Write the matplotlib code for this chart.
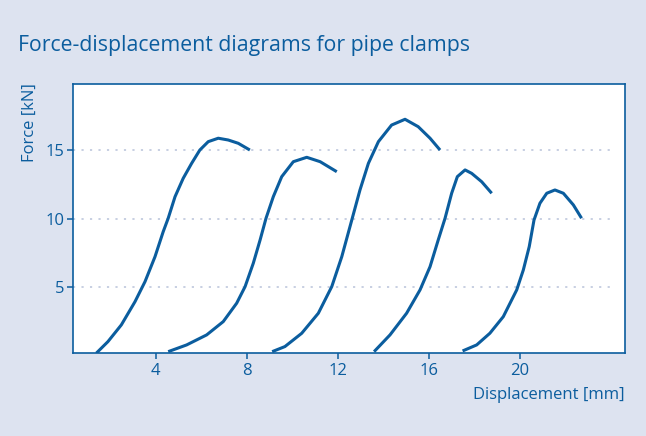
import matplotlib
matplotlib.use("Agg")
import matplotlib.pyplot as plt

# Force-displacement curves (x in mm, y in kN)
clamp1_x = [1.39, 1.9, 2.49, 3.09, 3.53, 3.97, 4.33, 4.55, 4.85, 5.21, 5.58, 5.94, 6.31, 6.75, 7.19, 7.63, 8.14]
clamp1_y = [0.2, 1.04, 2.26, 3.95, 5.41, 7.23, 9.05, 10.03, 11.6, 12.94, 14.03, 15.0, 15.61, 15.86, 15.73, 15.49, 15.0]

clamp2_x = [4.55, 5.36, 6.24, 6.97, 7.56, 7.93, 8.29, 8.59, 8.85, 9.17, 9.54, 10.05, 10.64, 11.23, 11.96]
clamp2_y = [0.31, 0.8, 1.53, 2.5, 3.84, 5.05, 6.75, 8.45, 10.03, 11.6, 13.06, 14.15, 14.47, 14.15, 13.42]

clamp3_x = [9.12, 9.68, 10.42, 11.15, 11.74, 12.18, 12.62, 12.98, 13.35, 13.79, 14.37, 14.96, 15.54, 16.06, 16.5]
clamp3_y = [0.31, 0.68, 1.65, 3.11, 5.05, 7.23, 9.9, 12.09, 14.03, 15.61, 16.82, 17.24, 16.7, 15.86, 15.0]

clamp4_x = [13.6, 14.3, 15.03, 15.62, 16.06, 16.42, 16.72, 17.01, 17.26, 17.6, 17.89, 18.33, 18.77]
clamp4_y = [0.31, 1.53, 3.11, 4.81, 6.5, 8.45, 10.03, 11.85, 13.06, 13.55, 13.3, 12.69, 11.85]

clamp5_x = [17.49, 18.11, 18.69, 19.28, 19.87, 20.16, 20.42, 20.63, 20.89, 21.19, 21.55, 21.92, 22.36, 22.72]
clamp5_y = [0.36, 0.8, 1.65, 2.86, 4.81, 6.26, 7.96, 9.9, 11.12, 11.85, 12.09, 11.85, 11.0, 10.03]

curves = [(clamp1_x, clamp1_y), (clamp2_x, clamp2_y), (clamp3_x, clamp3_y),
          (clamp4_x, clamp4_y), (clamp5_x, clamp5_y)]

x_ticks = [4, 8, 12, 16, 20]
y_ticks = [5, 10, 15]

blue = "#0b5d9e"
bg = "#dde3f0"
grid = "#c3cbdf"

plt.rcParams['font.family'] = ['Open Sans', 'DejaVu Sans']

fig = plt.figure(figsize=(6.46, 4.36), dpi=100, facecolor=bg)
ax = fig.add_axes([0.113, 0.19, 0.8545, 0.617])
ax.set_facecolor("white")

# dotted guide lines (stop a little short of the right frame)
ax.hlines(y_ticks, 0.365, 24.2, colors=grid, linestyles=(0, (1.2, 3.5)), linewidth=1.3, zorder=1)

for cx, cy in curves:
    ax.plot(cx, cy, color=blue, linewidth=2.2, solid_capstyle="butt",
            solid_joinstyle="round", zorder=3)

ax.set_xlim(0.365, 24.63)
ax.set_ylim(0.2, 19.8)
ax.set_xticks(x_ticks)
ax.set_yticks(y_ticks)

for s in ax.spines.values():
    s.set_color(blue)
    s.set_linewidth(1.2)

ax.tick_params(colors=blue, labelcolor=blue, labelsize=12, length=4, width=1.1, direction="out")
ax.tick_params(axis="x", pad=3)
ax.tick_params(axis="y", pad=2)

ax.text(-0.078, 1.005, "Force [kN]", transform=ax.transAxes, rotation=90,
        ha="center", va="top", color=blue, fontsize=12)
ax.text(1.0, -0.155, "Displacement [mm]", transform=ax.transAxes,
        ha="right", va="center", color=blue, fontsize=12)

fig.text(18 / 646, 1 - 45 / 436, "Force-displacement diagrams for pipe clamps",
         ha="left", va="center", color=blue, fontsize=15.3)

fig.savefig("out.png", dpi=100, facecolor=bg)
